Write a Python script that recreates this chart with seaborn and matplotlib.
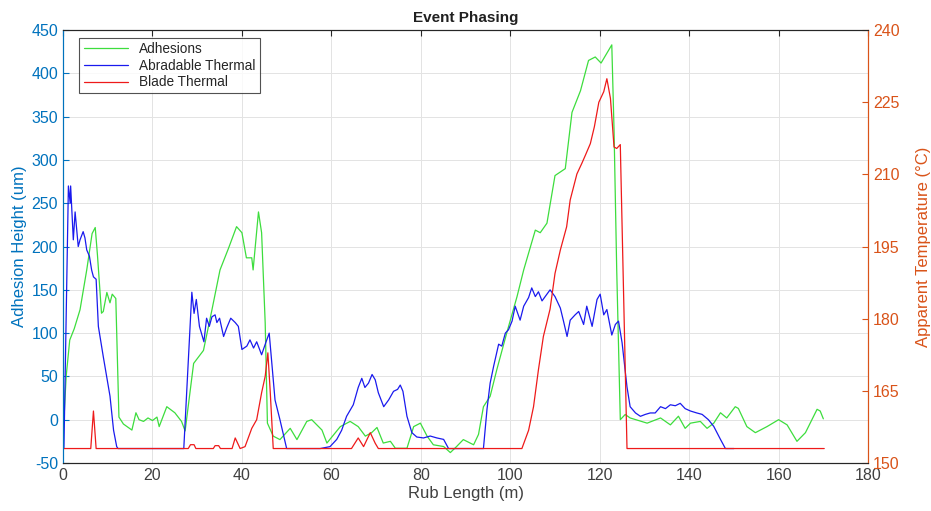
import matplotlib
import pandas as pd

matplotlib.use("Agg")

import matplotlib.pyplot as plt  # noqa: E402
import seaborn as sns  # noqa: E402

# Adhesions, left axis (um)
adh_x = [0.0, 0.3, 0.7, 1.5, 2.5, 3.8, 5.3, 6.5, 7.2, 7.7, 8.6, 9.0, 9.8, 10.5, 11.0, 11.8,
         12.5, 13.5, 15.4, 16.3, 17.0, 18.0, 19.0, 20.0, 21.0, 21.5, 23.2, 25.0, 26.5, 27.3,
         29.2, 31.4, 33.3, 35.1, 37.0, 38.8, 40.0, 41.0, 42.2, 42.5, 43.7, 44.4, 45.2, 45.7,
         47.0, 48.5, 50.8, 52.3, 54.5, 55.6, 57.9, 59.0, 62.0, 64.2, 66.0, 67.6, 69.0, 70.2,
         71.6, 73.2, 74.3, 76.9, 78.4, 79.9, 81.4, 82.8, 85.1, 86.6, 88.0, 89.5, 91.8, 92.9,
         94.0, 95.5, 97.0, 99.2, 101.5, 103.0, 105.6, 106.7, 108.2, 110.0, 112.3, 113.8,
         115.7, 117.5, 119.0, 120.3, 122.7, 123.2, 123.8, 124.6, 125.7, 126.8, 130.6, 133.6,
         135.8, 137.6, 139.1, 140.3, 142.5, 144.0, 145.5, 147.0, 148.4, 150.3, 151.0, 152.9,
         154.8, 157.4, 160.0, 161.9, 164.1, 166.0, 168.6, 169.3, 170.0]
adh_y = [-15, 10, 50, 92, 105, 127, 173, 215, 222, 190, 123, 125, 147, 135, 145, 140,
         3, -5, -12, 8, 0, -2, 2, -1, 3, -8, 15, 8, -2, -13,
         65, 80, 127, 173, 198, 223, 216, 187, 187, 173, 240, 216, 112, -4,
         -19, -23, -10, -23, -2, 0, -12, -27, -8, -2, -8, -19, -15, -9,
         -27, -25, -33, -33, -8, -4, -19, -29, -31, -38, -31, -23, -29, -17,
         15, 27, 58, 100, 142, 173, 219, 216, 227, 282, 290, 355,
         380, 415, 419, 412, 433, 335, 173, 0, 6, 2, -4, 2,
         -6, 4, -10, -4, -2, -10, -4, 8, 2, 15, 13, -8,
         -15, -8, 0, -6, -25, -15, 12, 10, 1]

# Abradable thermal, right axis (degC)
abr_x = [0.0, 0.2, 1.2, 1.6, 1.7, 2.3, 2.7, 3.4, 3.8, 4.5, 4.9, 5.3, 5.9, 6.4, 6.8, 7.4,
         7.9, 9.0, 10.5, 11.3, 12.0, 12.3, 27.0, 28.8, 29.3, 29.8, 30.5, 31.5, 32.1, 32.7,
         33.3, 34.0, 34.4, 35.0, 35.9, 36.6, 37.5, 38.5, 39.2, 40.0, 41.1, 41.8, 42.6, 43.3,
         44.4, 45.4, 46.1, 47.4, 48.5, 50.0, 57.5, 59.7, 61.2, 62.3, 63.4, 64.9, 66.0, 66.8,
         67.5, 68.3, 69.1, 69.8, 70.5, 71.7, 72.8, 73.9, 74.8, 75.4, 76.0, 76.9, 78.0, 79.1,
         80.6, 82.1, 83.6, 85.1, 86.2, 94.0, 94.8, 95.5, 96.3, 97.4, 98.1, 98.9, 99.6, 100.4,
         101.1, 102.2, 103.0, 104.1, 104.8, 105.6, 106.3, 107.1, 108.2, 108.9, 110.0, 111.2,
         111.9, 112.7, 113.4, 114.5, 115.3, 116.4, 117.1, 118.3, 119.4, 120.1, 120.9, 121.6,
         122.7, 123.5, 124.2, 125.0, 126.1, 126.8, 128.0, 129.1, 130.2, 131.3, 132.4, 133.6,
         134.7, 135.8, 136.9, 138.0, 139.1, 140.3, 141.7, 142.9, 144.3, 145.5, 147.0, 148.1,
         150.0]
abr_y = [153.0, 153.0, 207.6, 204.0, 207.6, 196.4, 202.2, 195.0, 196.4, 198.1, 196.8, 194.3,
         193.0, 190.1, 188.7, 188.2, 178.4, 172.1, 163.9, 156.8, 153.4, 153.0, 153.0, 185.5,
         181.1, 184.0, 178.4, 175.2, 180.1, 178.4, 180.4, 180.8, 179.2, 180.1, 176.3, 178.1,
         180.1, 179.2, 178.4, 173.6, 174.3, 175.6, 173.9, 175.2, 172.5, 175.2, 177.0, 163.1,
         159.0, 153.0, 153.0, 153.4, 154.9, 156.8, 159.7, 162.1, 165.7, 167.6, 165.7, 166.6,
         168.4, 167.3, 164.6, 161.7, 163.1, 164.9, 165.3, 166.2, 164.9, 159.7, 156.3, 155.4,
         155.2, 155.6, 155.2, 154.9, 153.0, 153.0, 161.2, 166.6, 170.2, 174.7, 174.3, 177.0,
         177.7, 179.5, 182.6, 179.7, 182.6, 184.4, 186.4, 184.6, 185.6, 183.7, 185.1, 186.0,
         184.6, 182.2, 179.5, 176.3, 179.7, 180.8, 181.5, 178.8, 182.6, 178.4, 184.0, 185.1,
         180.8, 181.9, 176.6, 178.8, 179.5, 175.0, 165.8, 161.7, 160.4, 159.7, 160.1, 160.4,
         160.4, 161.7, 161.3, 162.1, 161.9, 162.4, 161.3, 160.8, 160.4, 160.1, 159.0, 157.6,
         154.9, 153.0, 153.0]

# Blade thermal, right axis (degC)
bld_x = [0.2, 6.2, 6.8, 7.4, 28.0, 28.5, 29.3, 29.7, 33.6, 34.0, 34.8, 35.2, 37.8, 38.5,
         39.6, 40.7, 42.2, 43.3, 44.4, 45.2, 45.8, 46.3, 47.0, 64.5, 66.0, 67.2, 68.7, 69.8,
         70.5, 102.6, 104.1, 105.2, 106.3, 107.4, 108.9, 110.0, 111.2, 112.6, 113.4, 114.9,
         116.0, 116.8, 117.9, 118.8, 119.8, 120.9, 121.6, 122.4, 123.2, 123.8, 124.6, 126.1,
         170.2]
bld_y = [153.0, 153.0, 160.8, 153.0, 153.0, 153.8, 153.8, 153.0, 153.0, 153.6, 153.6, 153.0,
         153.0, 155.2, 153.0, 153.4, 157.2, 159.0, 164.6, 168.0, 172.9, 165.3, 153.0, 153.0,
         155.2, 153.4, 156.3, 154.1, 153.0, 153.0, 156.8, 161.7, 169.4, 176.3, 182.0, 189.4,
         194.3, 199.1, 204.7, 210.1, 212.3, 214.0, 216.4, 219.9, 225.0, 227.2, 229.9, 225.8,
         215.7, 215.4, 216.2, 153.0, 153.0]

LEFT_C = "#0072BD"
RIGHT_C = "#D95319"
AX_C = "#262626"

sns.set_style("white")
plt.rcParams["font.family"] = ["Liberation Sans", "DejaVu Sans"]
plt.rcParams["axes.unicode_minus"] = False

fig = plt.figure(figsize=(9.31, 5.11), dpi=100)
ax = fig.add_axes([0.0677, 0.094, 0.8647, 0.847])
ax2 = ax.twinx()

sns.lineplot(x=adh_x, y=adh_y, ax=ax, color="#3ddd3d", lw=0.9, estimator=None, label="Adhesions")
sns.lineplot(x=abr_x, y=abr_y, ax=ax2, color="#1a1aee", lw=0.9, estimator=None,
             label="Abradable Thermal")
sns.lineplot(x=bld_x, y=bld_y, ax=ax2, color="#ee1a1a", lw=0.9, estimator=None,
             label="Blade Thermal")

ax.set_xlim(0, 180)
ax.set_ylim(-50, 450)
ax2.set_ylim(150, 240)
ax.set_xticks(range(0, 181, 20))
ax.set_yticks(range(-50, 451, 50))
ax2.set_yticks(range(150, 241, 15))

ax.grid(True, color="#e3e3e3", lw=0.7)
ax.set_axisbelow(True)

ax.tick_params(axis="x", direction="in", length=4, top=True, colors=AX_C, labelsize=11.5,
               labelcolor="#404040")
ax.tick_params(axis="y", direction="in", length=4, colors=LEFT_C, labelsize=11.5)
ax2.tick_params(axis="y", direction="in", length=4, colors=RIGHT_C, labelsize=11.5)

for a in (ax, ax2):
    a.spines["top"].set_color(AX_C)
    a.spines["bottom"].set_color(AX_C)
    a.spines["left"].set_color(LEFT_C)
    a.spines["right"].set_color(RIGHT_C)
    for s in a.spines.values():
        s.set_linewidth(0.8)

ax.set_xlabel("Rub Length (m)", fontsize=12, color="#404040", labelpad=2)
ax.set_ylabel("Adhesion Height (um)", fontsize=12, color=LEFT_C, labelpad=3)
ax2.set_ylabel("Apparent Temperature (°C)", fontsize=12, color=RIGHT_C, labelpad=12)
ax.set_title("Event Phasing", fontsize=11, fontweight="bold", color="#202020", pad=6)

h1, l1 = ax.get_legend_handles_labels()
h2, l2 = ax2.get_legend_handles_labels()
if ax2.get_legend():
    ax2.get_legend().remove()
leg = ax.legend(h1 + h2, l1 + l2, loc="upper left", bbox_to_anchor=(0.012, 0.998),
                fontsize=9.8, frameon=True, fancybox=False, edgecolor="#262626",
                handlelength=3.3, borderpad=0.3, labelspacing=0.2)
leg.get_frame().set_linewidth(0.8)

fig.savefig("out.png", dpi=100, facecolor="white")
